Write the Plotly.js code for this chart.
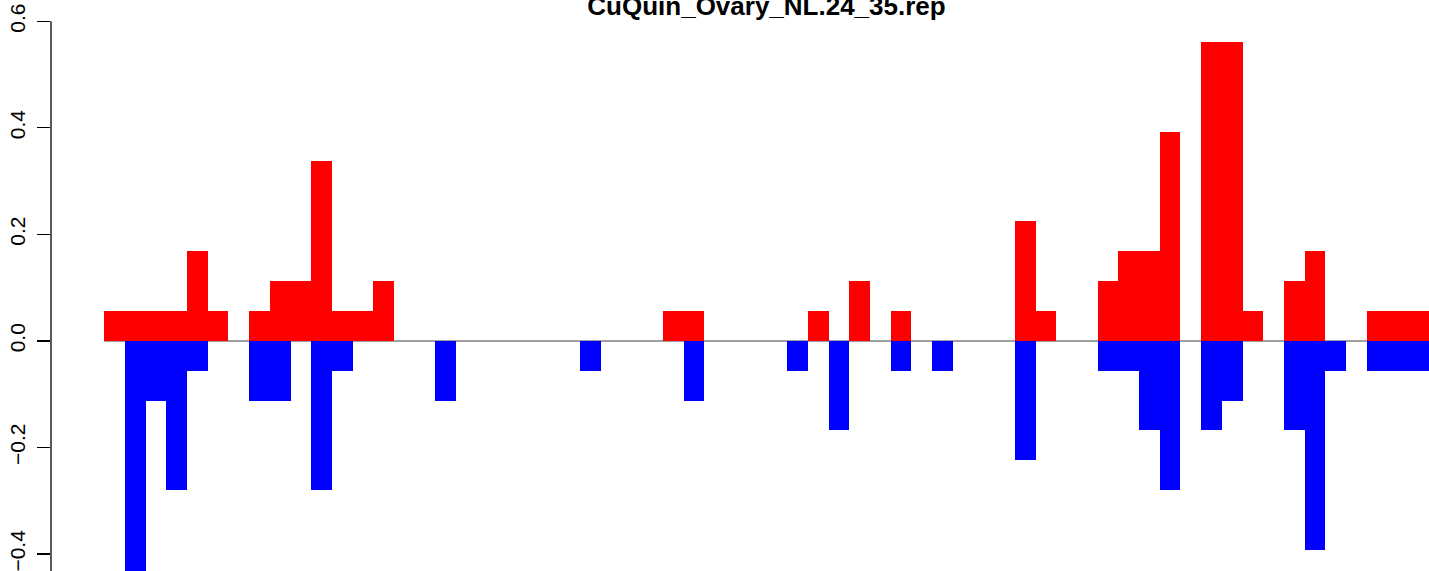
<!DOCTYPE html>
<html>
<head>
<meta charset="utf-8">
<script src="https://cdn.plot.ly/plotly-3.0.1.min.js"></script>
<style>html,body{margin:0;padding:0;background:#fff;}#chart{width:1429px;height:571px;}</style>
</head>
<body>
<div id="chart"></div>
<script>
// Bar positions (index along the sequence)
var positions = [];
for (var i = 0; i < 64; i++) positions.push(i);

// Positive (red) values, one per position
var upValues = [
  0.056, 0.056, 0.056, 0.056, 0.169, 0.056, 0,     0.056, 0.113, 0.113,
  0.338, 0.056, 0.056, 0.113, 0,     0,     0,     0,     0,     0,
  0,     0,     0,     0,     0,     0,     0,     0.056, 0.056, 0,
  0,     0,     0,     0,     0.056, 0,     0.113, 0,     0.056, 0,
  0,     0,     0,     0,     0.225, 0.056, 0,     0,     0.113, 0.169,
  0.169, 0.392, 0,     0.561, 0.561, 0.056, 0,     0.113, 0.169, 0,
  0,     0.056, 0.056, 0.056
];

// Negative (blue) values, one per position
var downValues = [
  0,      -0.450, -0.113, -0.280, -0.056, 0,      0,      -0.113, -0.113, 0,
  -0.280, -0.056, 0,      0,      0,      0,      -0.113, 0,      0,      0,
  0,      0,      0,      -0.056, 0,      0,      0,      0,      -0.113, 0,
  0,      0,      0,      -0.056, 0,      -0.168, 0,      0,      -0.056, 0,
  -0.056, 0,      0,      0,      -0.223, 0,      0,      0,      -0.056, -0.056,
  -0.168, -0.280, 0,      -0.168, -0.113, 0,      0,      -0.168, -0.392, -0.056,
  0,      -0.056, -0.056, -0.056
];

var yTicks = [-0.4, -0.2, 0.0, 0.2, 0.4, 0.6];
var yTickLabels = ["\u22120.4", "\u22120.2", "0.0", "0.2", "0.4", "0.6"];
var chartTitle = "CuQuin_Ovary_NL.24_35.rep";

var traces = [
  {type: 'bar', x: positions, y: upValues, width: 1, marker: {color: '#FF0000', line: {width: 0}}, hoverinfo: 'x+y'},
  {type: 'bar', x: positions, y: downValues, width: 1, marker: {color: '#0000FF', line: {width: 0}}, hoverinfo: 'x+y'}
];

var layout = {
  width: 1429, height: 571,
  margin: {l: 51, r: 0, t: 0, b: 0, pad: 0},
  paper_bgcolor: '#ffffff', plot_bgcolor: '#ffffff',
  showlegend: false,
  barmode: 'overlay', bargap: 0,
  font: {family: 'Liberation Sans, Arial, sans-serif', color: '#000'},
  title: {
    text: '<b>' + chartTitle + '</b>',
    font: {size: 26, family: 'Liberation Sans, Arial, sans-serif', color: '#000'},
    x: 766.5 / 1429, xanchor: 'center', xref: 'container',
    y: 1 - 15 / 571, yanchor: 'bottom', yref: 'container'
  },
  xaxis: {
    range: [-3.075, 63.51], showgrid: false, zeroline: false, showline: false,
    showticklabels: false, ticks: '', fixedrange: true
  },
  yaxis: {
    range: [-0.4319, 0.6398], showgrid: false, zeroline: false, showline: false,
    tickmode: 'array', tickvals: yTicks, ticktext: yTickLabels,
    ticks: 'outside', ticklen: 13, tickwidth: 1.3, tickcolor: '#000',
    tickangle: -90, tickfont: {size: 21, color: '#000', family: 'Liberation Sans, Arial, sans-serif'},
    ticklabelstandoff: 4, ticklabeloverflow: 'allow', fixedrange: true
  },
  shapes: [
    {type: 'line', xref: 'paper', yref: 'y', x0: 0, x1: 0, y0: -0.5, y1: 0.6,
     line: {color: '#000', width: 1.3}, layer: 'above'},
    {type: 'line', xref: 'x', yref: 'y', x0: -0.5, x1: 64, y0: 0, y1: 0,
     line: {color: '#808080', width: 1.5}, layer: 'below'}
  ]
};

Plotly.newPlot('chart', traces, layout, {displayModeBar: false, staticPlot: true});
</script>
</body>
</html>
